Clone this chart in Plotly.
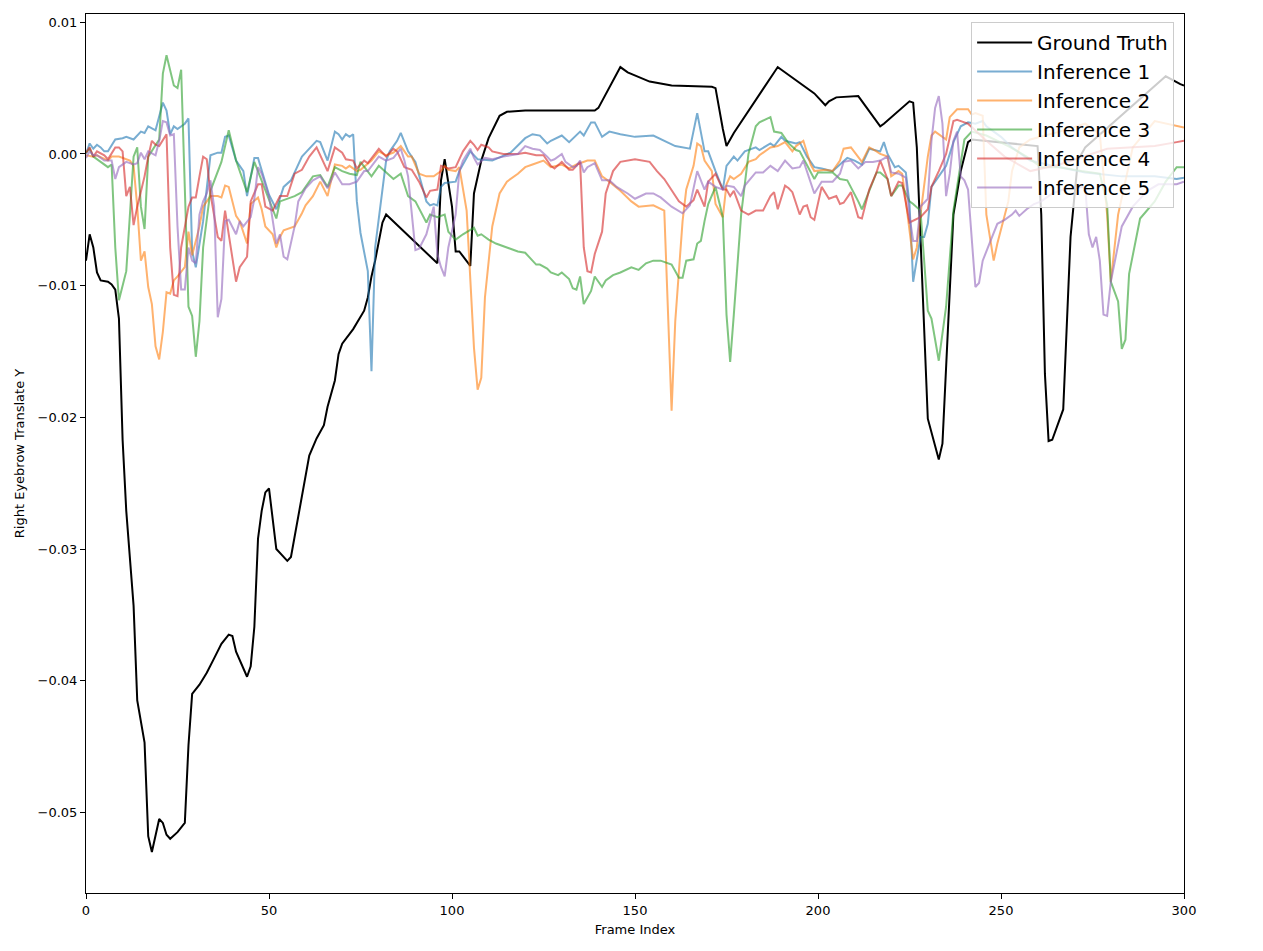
import plotly.graph_objects as go

# ---------------- data (frame index, value) ----------------
gt_x = [0, 1, 2, 3, 4, 6, 7, 8, 9, 10, 11, 13, 14, 16, 17, 18, 20, 21, 22, 23, 25, 27, 28, 29, 31, 33, 35, 37, 39, 40,
        41, 43, 44, 45, 46, 47, 48, 49, 50, 52, 55, 56, 57, 61, 63, 65, 66, 68, 69, 70, 73, 76, 77, 78, 79, 81, 82, 96, 97, 98,
        100, 101, 102, 105, 106, 107, 108, 110, 113, 115, 120, 139, 140, 146, 148, 154, 160, 171, 172, 174, 175, 177, 189, 190, 199,
        202, 203, 205, 211, 217, 218, 225, 226, 227, 230, 233, 234, 237, 239, 241, 242, 260, 261, 262, 263, 264, 267, 269, 271, 273,
        295, 299, 300]
gt_y = [-0.0081, -0.0061, -0.0071, -0.0090, -0.0096, -0.0097, -0.0099, -0.0103, -0.0125, -0.0217, -0.0271, -0.0343, -0.0415,
        -0.0447, -0.0518, -0.0530, -0.0505, -0.0508, -0.0517, -0.0520, -0.0515, -0.0508, -0.0449, -0.0410, -0.0403, -0.0394,
        -0.0383, -0.0372, -0.0365, -0.0366, -0.0378, -0.0391, -0.0397, -0.0389, -0.0359, -0.0292, -0.0271, -0.0257, -0.0254,
        -0.0300, -0.0309, -0.0306, -0.0290, -0.0229, -0.0216, -0.0206, -0.0192, -0.0172, -0.0152, -0.0144, -0.0133, -0.0119,
        -0.0109, -0.0093, -0.0081, -0.0052, -0.0046, -0.0083, -0.0020, -0.0004, -0.0040, -0.0074, -0.0074, -0.0085, -0.0030,
        -0.0017, -0.0005, 0.0012, 0.0029, 0.0032, 0.0033, 0.0033, 0.0035, 0.0066, 0.0062, 0.0055, 0.0052, 0.0051, 0.0050,
        0.0019, 0.0006, 0.0016, 0.0066, 0.0064, 0.0046, 0.0037, 0.0040, 0.0043, 0.0044, 0.0021, 0.0023, 0.0040, 0.0039, 0.0005,
        -0.0201, -0.0232, -0.0220, -0.0046, -0.0013, 0.0009, 0.0011, 0.0006, -0.0046, -0.0167, -0.0218, -0.0217, -0.0194,
        -0.0063, -0.0005, 0.0005, 0.0059, 0.0053, 0.0052]

inf1_x = [0, 1, 2, 3, 4, 5, 6, 8, 10, 11, 13, 15, 16, 17, 19, 21, 22, 23, 24, 25, 27, 28, 29, 30, 32, 34, 36, 37, 38, 39,
          41, 43, 44, 46, 47, 48, 50, 52, 54, 56, 59, 60, 63, 64, 66, 68, 69, 70, 71, 72, 73, 74, 75, 77, 78, 79, 82, 83, 85, 86,
          88, 90, 93, 94, 95, 96, 97, 98, 101, 102, 105, 107, 111, 116, 120, 122, 124, 126, 127, 130, 132, 135, 136, 138, 139, 141,
          143, 146, 148, 150, 155, 158, 161, 165, 167, 169, 170, 172, 174, 175, 177, 178, 180, 183, 184, 187, 188, 190, 191, 194,
          195, 197, 199, 201, 204, 206, 208, 210, 212, 214, 217, 218, 219, 221, 222, 224, 225, 226, 228, 229, 230, 231, 233, 235,
          237, 239, 241, 243, 245, 246, 250, 253, 258, 264, 273, 283, 292, 298, 300]
inf1_y = [0.0000, 0.0008, 0.0004, 0.0007, 0.0005, 0.0002, 0.0002, 0.0011, 0.0012, 0.0013, 0.0011, 0.0017, 0.0016, 0.0021,
          0.0018, 0.0039, 0.0033, 0.0015, 0.0021, 0.0019, 0.0023, 0.0027, -0.0074, -0.0086, -0.0051, -0.0001, 0.0001, 0.0001,
          0.0013, 0.0014, -0.0005, -0.0013, -0.0032, -0.0003, -0.0003, -0.0013, -0.0031, -0.0042, -0.0025, -0.0020, -0.0002,
          0.0001, 0.0010, 0.0009, -0.0005, 0.0017, 0.0015, 0.0011, 0.0015, 0.0013, 0.0015, -0.0036, -0.0060, -0.0089, -0.0165,
          -0.0071, -0.0005, 0.0002, 0.0010, 0.0016, 0.0002, -0.0006, -0.0036, -0.0039, -0.0038, -0.0039, -0.0025, -0.0022,
          -0.0021, -0.0013, 0.0002, -0.0004, -0.0005, 0.0001, 0.0012, 0.0015, 0.0014, 0.0008, 0.0010, 0.0014, 0.0009, 0.0017,
          0.0014, 0.0024, 0.0024, 0.0013, 0.0017, 0.0015, 0.0014, 0.0013, 0.0014, 0.0010, 0.0006, 0.0004, 0.0031, 0.0002,
          0.0002, -0.0013, -0.0027, -0.0009, -0.0002, -0.0005, 0.0002, 0.0005, 0.0003, 0.0008, 0.0006, 0.0013, 0.0010, 0.0008,
          0.0009, -0.0002, -0.0010, -0.0011, -0.0013, -0.0008, -0.0003, -0.0005, -0.0008, 0.0004, 0.0002, 0.0009, 0.0000,
          -0.0010, -0.0009, -0.0014, -0.0038, -0.0097, -0.0063, -0.0063, -0.0053, -0.0025, -0.0017, -0.0009, 0.0009, 0.0021,
          0.0024, 0.0023, 0.0025, 0.0021, 0.0013, 0.0005, -0.0005, -0.0009, -0.0014, -0.0017, -0.0017, -0.0019, -0.0018]

inf2_x = [0, 2, 3, 6, 7, 9, 12, 13, 14, 15, 16, 17, 18, 19, 20, 21, 22, 23, 24, 25, 27, 28, 29, 31, 32, 34, 36, 37, 38, 39,
          41, 42, 44, 45, 47, 48, 49, 51, 52, 53, 54, 57, 59, 60, 62, 64, 66, 68, 70, 71, 72, 74, 75, 77, 78, 80, 82, 84, 86, 88,
          89, 91, 93, 95, 97, 98, 99, 101, 102, 104, 105, 106, 107, 108, 109, 111, 113, 115, 118, 120, 122, 125, 127, 130, 132,
          134, 137, 139, 141, 143, 146, 149, 151, 155, 158, 160, 161, 163, 164, 166, 167, 168, 169, 171, 172, 174, 175, 176, 177,
          179, 181, 183, 184, 187, 189, 191, 193, 194, 196, 198, 199, 202, 204, 206, 207, 209, 212, 214, 216, 217, 219, 220, 222,
          223, 224, 226, 227, 228, 230, 231, 232, 235, 236, 238, 241, 242, 243, 245, 246, 248, 249, 252, 253, 255, 258, 266, 273,
          277, 279, 280, 282, 286, 292, 298, 300]
inf2_y = [-0.0001, -0.0002, -0.0001, -0.0005, -0.0002, -0.0002, -0.0005, -0.0009, -0.0040, -0.0081, -0.0074, -0.0101,
          -0.0114, -0.0146, -0.0156, -0.0135, -0.0105, -0.0106, -0.0096, -0.0093, -0.0086, -0.0059, -0.0077, -0.0055, -0.0040,
          -0.0032, -0.0032, -0.0033, -0.0024, -0.0025, -0.0047, -0.0051, -0.0068, -0.0038, -0.0033, -0.0042, -0.0055, -0.0061,
          -0.0071, -0.0063, -0.0058, -0.0055, -0.0045, -0.0039, -0.0032, -0.0021, -0.0032, -0.0008, -0.0009, -0.0011, -0.0009,
          -0.0013, -0.0012, -0.0007, -0.0005, 0.0002, -0.0001, 0.0001, 0.0006, -0.0002, -0.0002, -0.0015, -0.0017, -0.0017,
          -0.0013, -0.0009, -0.0012, -0.0013, -0.0010, -0.0043, -0.0097, -0.0147, -0.0179, -0.0170, -0.0109, -0.0055, -0.0030,
          -0.0021, -0.0015, -0.0010, -0.0008, -0.0005, -0.0010, -0.0008, -0.0011, -0.0008, -0.0005, -0.0005, -0.0017, -0.0021,
          -0.0028, -0.0036, -0.0040, -0.0039, -0.0043, -0.0195, -0.0127, -0.0051, -0.0027, -0.0009, 0.0008, 0.0006, -0.0005,
          -0.0013, -0.0038, -0.0048, -0.0023, -0.0017, -0.0019, -0.0015, -0.0006, -0.0004, -0.0001, 0.0005, 0.0006, 0.0009,
          0.0002, 0.0006, 0.0010, -0.0008, -0.0013, -0.0012, -0.0013, -0.0005, 0.0004, 0.0005, -0.0006, 0.0005, 0.0002, 0.0000,
          -0.0002, -0.0017, -0.0013, -0.0015, -0.0036, -0.0080, -0.0071, -0.0046, -0.0002, 0.0014, 0.0017, 0.0011, 0.0028,
          0.0034, 0.0034, 0.0030, 0.0031, 0.0029, -0.0046, -0.0081, -0.0068, -0.0036, -0.0013, 0.0005, 0.0011, 0.0017, 0.0023,
          0.0015, -0.0046, -0.0097, -0.0046, 0.0005, 0.0025, 0.0021, 0.0020]

inf3_x = [0, 1, 2, 4, 6, 7, 8, 9, 10, 11, 12, 13, 14, 15, 16, 17, 20, 21, 22, 24, 25, 26, 28, 29, 30, 31, 32, 34, 37, 39,
          41, 42, 44, 46, 47, 52, 53, 57, 59, 62, 64, 66, 68, 70, 72, 74, 75, 77, 78, 80, 82, 84, 86, 88, 90, 92, 93, 94, 96, 98,
          99, 101, 103, 106, 107, 108, 110, 112, 115, 118, 120, 123, 124, 126, 127, 129, 130, 132, 133, 134, 135, 136, 138, 139,
          141, 142, 144, 146, 149, 151, 153, 155, 157, 160, 162, 163, 164, 166, 167, 168, 169, 170, 172, 174, 175, 176, 177, 179,
          181, 183, 184, 187, 188, 190, 192, 194, 195, 197, 199, 200, 204, 206, 208, 211, 212, 214, 216, 217, 219, 220, 222, 223,
          225, 226, 228, 230, 231, 233, 235, 237, 239, 240, 242, 246, 252, 257, 261, 266, 272, 277, 279, 280, 282, 283, 284, 285,
          288, 292, 295, 298, 300]
inf3_y = [0.0001, 0.0004, -0.0002, -0.0006, -0.0010, -0.0008, -0.0071, -0.0111, -0.0101, -0.0089, -0.0046, -0.0002, 0.0005,
          -0.0040, -0.0057, -0.0002, 0.0011, 0.0061, 0.0075, 0.0052, 0.0050, 0.0064, -0.0116, -0.0123, -0.0154, -0.0127,
          -0.0071, -0.0028, -0.0006, 0.0018, -0.0005, -0.0013, -0.0029, -0.0006, -0.0013, -0.0049, -0.0036, -0.0032, -0.0029,
          -0.0017, -0.0016, -0.0025, -0.0010, -0.0013, -0.0015, -0.0016, -0.0006, -0.0013, -0.0017, -0.0009, -0.0014, -0.0019,
          -0.0015, -0.0032, -0.0036, -0.0046, -0.0052, -0.0046, -0.0048, -0.0046, -0.0059, -0.0065, -0.0061, -0.0056, -0.0062,
          -0.0061, -0.0065, -0.0068, -0.0071, -0.0074, -0.0075, -0.0084, -0.0084, -0.0087, -0.0090, -0.0092, -0.0090, -0.0095,
          -0.0102, -0.0103, -0.0093, -0.0114, -0.0104, -0.0093, -0.0101, -0.0096, -0.0092, -0.0090, -0.0086, -0.0088, -0.0083,
          -0.0081, -0.0081, -0.0084, -0.0094, -0.0094, -0.0081, -0.0080, -0.0068, -0.0066, -0.0051, -0.0038, -0.0025, -0.0048,
          -0.0122, -0.0158, -0.0122, -0.0046, 0.0000, 0.0021, 0.0024, 0.0028, 0.0017, 0.0016, 0.0008, 0.0003, 0.0002, -0.0008,
          -0.0019, -0.0014, -0.0014, -0.0019, -0.0020, -0.0036, -0.0042, -0.0028, -0.0014, -0.0014, -0.0019, -0.0032, -0.0024,
          -0.0024, -0.0036, -0.0038, -0.0043, -0.0119, -0.0125, -0.0157, -0.0116, -0.0043, -0.0005, 0.0011, 0.0017, 0.0014,
          0.0006, -0.0002, -0.0010, -0.0010, -0.0013, -0.0015, -0.0038, -0.0097, -0.0112, -0.0148, -0.0141, -0.0091, -0.0049,
          -0.0036, -0.0021, -0.0010, -0.0010]

inf4_x = [0, 1, 2, 3, 5, 6, 8, 9, 10, 11, 12, 13, 14, 16, 17, 18, 19, 20, 22, 23, 24, 25, 26, 28, 29, 30, 31, 32, 33, 34,
          36, 37, 38, 39, 41, 42, 44, 45, 47, 48, 49, 51, 53, 55, 57, 59, 61, 63, 66, 68, 70, 71, 73, 74, 76, 77, 80, 81, 82, 84,
          85, 87, 89, 91, 93, 94, 96, 97, 99, 101, 103, 105, 106, 107, 108, 110, 111, 114, 118, 120, 123, 125, 127, 128, 130, 132,
          133, 135, 136, 137, 138, 139, 141, 142, 144, 146, 148, 150, 154, 156, 158, 160, 162, 164, 166, 167, 169, 170, 172, 174,
          175, 176, 177, 179, 181, 183, 185, 187, 188, 189, 191, 192, 193, 195, 196, 197, 198, 199, 201, 203, 205, 206, 207, 209,
          211, 212, 214, 216, 217, 219, 220, 222, 223, 225, 227, 228, 230, 231, 233, 235, 237, 238, 240, 241, 246, 251, 258, 266,
          279, 292, 298, 300]
inf4_y = [0.0001, 0.0005, -0.0002, 0.0002, -0.0001, -0.0004, 0.0005, 0.0005, 0.0002, -0.0032, -0.0025, -0.0054, -0.0040,
          -0.0017, -0.0002, 0.0010, 0.0007, 0.0006, 0.0015, -0.0071, -0.0107, -0.0108, -0.0071, -0.0040, -0.0033, -0.0033,
          -0.0017, -0.0002, -0.0004, -0.0030, -0.0063, -0.0066, -0.0043, -0.0062, -0.0097, -0.0086, -0.0078, -0.0036, -0.0023,
          -0.0023, -0.0040, -0.0043, -0.0032, -0.0032, -0.0015, -0.0012, -0.0002, 0.0005, -0.0013, 0.0005, 0.0001, -0.0004,
          -0.0005, -0.0011, -0.0005, -0.0007, 0.0004, 0.0001, -0.0002, 0.0004, 0.0002, -0.0010, -0.0012, -0.0021, -0.0033,
          -0.0028, -0.0027, -0.0009, -0.0011, -0.0010, 0.0002, 0.0010, 0.0007, 0.0003, 0.0007, 0.0005, 0.0002, 0.0000, 0.0000,
          0.0001, -0.0001, -0.0001, -0.0009, -0.0011, -0.0006, -0.0012, -0.0012, -0.0006, -0.0071, -0.0089, -0.0090, -0.0076,
          -0.0059, -0.0030, -0.0013, -0.0006, -0.0005, -0.0004, -0.0006, -0.0013, -0.0019, -0.0027, -0.0036, -0.0040, -0.0035,
          -0.0027, -0.0040, -0.0021, -0.0015, -0.0027, -0.0027, -0.0032, -0.0028, -0.0043, -0.0046, -0.0043, -0.0043, -0.0032,
          -0.0029, -0.0042, -0.0024, -0.0026, -0.0029, -0.0046, -0.0040, -0.0039, -0.0048, -0.0050, -0.0025, -0.0034, -0.0032,
          -0.0038, -0.0037, -0.0029, -0.0048, -0.0049, -0.0027, -0.0014, -0.0005, -0.0019, -0.0032, -0.0021, -0.0022, -0.0052,
          -0.0049, -0.0048, -0.0042, -0.0025, -0.0013, 0.0000, 0.0025, 0.0026, 0.0024, 0.0023, 0.0010, -0.0002, -0.0013,
          -0.0008, 0.0004, 0.0006, 0.0009, 0.0010]

inf5_x = [0, 1, 2, 3, 5, 7, 8, 9, 11, 13, 14, 15, 16, 17, 19, 20, 21, 22, 23, 24, 25, 26, 27, 28, 29, 30, 31, 32, 33, 34,
          35, 36, 37, 38, 39, 41, 42, 43, 45, 46, 47, 48, 50, 52, 53, 54, 55, 57, 58, 60, 62, 64, 66, 68, 70, 72, 74, 76, 77, 79,
          80, 82, 84, 86, 87, 88, 90, 91, 93, 95, 96, 97, 98, 99, 101, 102, 103, 105, 106, 107, 109, 111, 114, 118, 120, 122, 124,
          126, 127, 128, 130, 131, 133, 134, 135, 136, 137, 139, 141, 143, 145, 148, 150, 153, 155, 157, 160, 163, 165, 167, 169,
          170, 172, 174, 175, 177, 179, 180, 183, 185, 187, 189, 191, 193, 195, 196, 199, 201, 204, 206, 207, 209, 211, 213, 215,
          217, 219, 220, 222, 224, 225, 226, 227, 228, 230, 231, 232, 233, 234, 235, 236, 237, 238, 239, 240, 241, 242, 243, 244,
          245, 247, 249, 251, 253, 254, 255, 257, 259, 261, 264, 268, 273, 274, 275, 276, 277, 278, 279, 280, 283, 286, 290, 293,
          298, 300]
inf5_y = [-0.0003, 0.0002, -0.0001, -0.0001, -0.0005, -0.0005, -0.0019, -0.0010, -0.0006, -0.0008, -0.0007, 0.0001,
          -0.0004, 0.0002, -0.0001, 0.0010, 0.0025, 0.0024, 0.0014, 0.0015, -0.0055, -0.0103, -0.0103, -0.0071, -0.0081,
          -0.0083, -0.0046, -0.0036, -0.0030, -0.0020, -0.0040, -0.0124, -0.0110, -0.0051, -0.0050, -0.0061, -0.0051, -0.0055,
          -0.0048, -0.0034, -0.0010, -0.0015, -0.0032, -0.0068, -0.0061, -0.0078, -0.0080, -0.0055, -0.0036, -0.0026, -0.0020,
          -0.0017, -0.0026, -0.0014, -0.0023, -0.0023, -0.0021, -0.0013, -0.0013, -0.0006, -0.0002, -0.0005, -0.0003, 0.0004,
          -0.0005, -0.0017, -0.0073, -0.0072, -0.0061, -0.0040, -0.0076, -0.0086, -0.0093, -0.0071, -0.0046, -0.0013, -0.0005,
          0.0004, -0.0003, -0.0008, -0.0003, -0.0004, -0.0002, 0.0000, 0.0006, 0.0004, 0.0003, -0.0002, -0.0005, -0.0004, 0.0000,
          -0.0006, -0.0010, -0.0009, -0.0005, -0.0014, -0.0010, -0.0007, -0.0020, -0.0020, -0.0025, -0.0030, -0.0034, -0.0030,
          -0.0030, -0.0033, -0.0040, -0.0045, -0.0039, -0.0013, -0.0027, -0.0021, -0.0025, -0.0027, -0.0024, -0.0025, -0.0032,
          -0.0024, -0.0014, -0.0014, -0.0009, -0.0013, -0.0005, -0.0011, -0.0010, -0.0005, -0.0030, -0.0021, -0.0021, -0.0015,
          -0.0006, -0.0005, -0.0011, -0.0006, -0.0006, -0.0005, -0.0002, -0.0014, -0.0015, -0.0018, -0.0047, -0.0066, -0.0066,
          -0.0040, -0.0034, 0.0010, 0.0035, 0.0044, 0.0023, -0.0032, -0.0015, 0.0010, 0.0017, -0.0017, -0.0020, -0.0027,
          -0.0066, -0.0101, -0.0098, -0.0081, -0.0067, -0.0053, -0.0050, -0.0046, -0.0043, -0.0047, -0.0042, -0.0038, -0.0036,
          -0.0030, -0.0026, -0.0025, -0.0061, -0.0071, -0.0063, -0.0081, -0.0122, -0.0123, -0.0097, -0.0055, -0.0040, -0.0028,
          -0.0023, -0.0023, -0.0021]

series_names = ["Ground Truth", "Inference 1", "Inference 2", "Inference 3", "Inference 4", "Inference 5"]
x_ticks = [0, 50, 100, 150, 200, 250, 300]
y_ticks = [0.01, 0.0, -0.01, -0.02, -0.03, -0.04, -0.05]
y_tick_text = ["0.01", "0.00", "\u22120.01", "\u22120.02", "\u22120.03", "\u22120.04", "\u22120.05"]

# ---------------- figure ----------------
colors = ["#000000", "#1f77b4", "#ff7f0e", "#2ca02c", "#d62728", "#9467bd"]
opac = [1.0, 0.6, 0.6, 0.6, 0.6, 0.6]
xs = [gt_x, inf1_x, inf2_x, inf3_x, inf4_x, inf5_x]
ys = [gt_y, inf1_y, inf2_y, inf3_y, inf4_y, inf5_y]

fig = go.Figure()
for i, name in enumerate(series_names):
    fig.add_trace(go.Scatter(
        x=xs[i], y=ys[i], mode="lines", name=name,
        line=dict(color=colors[i], width=2),
        opacity=opac[i],
    ))

font_family = "DejaVu Sans, Arial, sans-serif"
# page body has an 8px margin, so the figure is 8px smaller and margins shifted
fig.update_layout(
    width=1255, height=943,
    margin=dict(l=78, r=79, t=6, b=58, autoexpand=False),
    paper_bgcolor="white", plot_bgcolor="white",
    font=dict(family=font_family, size=13, color="black"),
    showlegend=True,
    legend=dict(
        x=0.991, y=0.9909, xanchor="right", yanchor="top",
        bgcolor="rgba(255,255,255,0.8)", bordercolor="#cccccc", borderwidth=1,
        font=dict(family=font_family, size=20, color="black"),
        itemwidth=55,
    ),
    xaxis=dict(
        range=[0, 300], tickvals=x_ticks, ticktext=[str(v) for v in x_ticks],
        showgrid=False, zeroline=False, showline=True, linecolor="black", linewidth=1, mirror=True,
        ticks="outside", ticklen=5, tickwidth=1, tickcolor="black", automargin=False,
        title=dict(text="Frame Index", font=dict(size=13), standoff=8),
    ),
    yaxis=dict(
        range=[-0.05612, 0.01063], tickvals=y_ticks, ticktext=y_tick_text,
        showgrid=False, zeroline=False, showline=True, linecolor="black", linewidth=1, mirror=True,
        ticks="outside", ticklen=5, tickwidth=1, tickcolor="black", automargin=False,
        title=dict(text="Right Eyebrow Translate Y", font=dict(size=13), standoff=10),
    ),
)

fig.write_html("out.html")
